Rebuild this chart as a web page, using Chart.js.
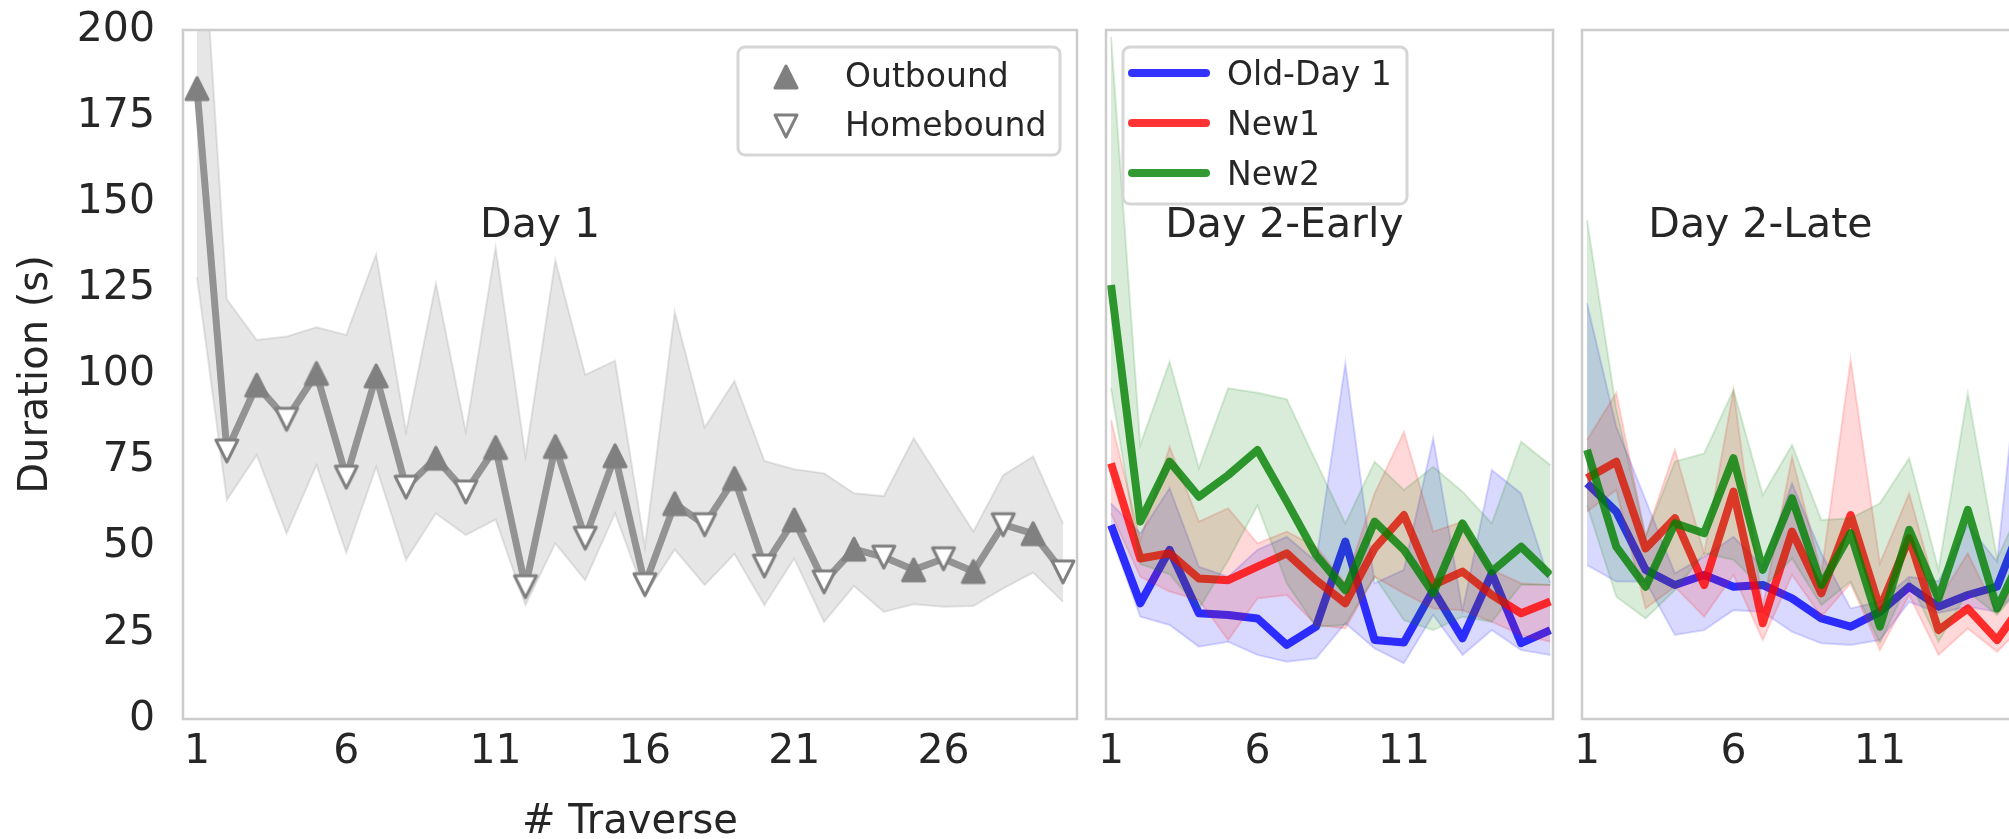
<!DOCTYPE html>
<html>
<head>
<meta charset="utf-8">
<script src="https://cdn.jsdelivr.net/npm/chart.js@4.4.1/dist/chart.umd.min.js"></script>
<style>
  html, body { margin: 0; padding: 0; background: #ffffff; width: 2009px; height: 839px; overflow: hidden; position: relative; }
  canvas { position: absolute; top: 0; }
</style>
</head>
<body>
<canvas id="day1" width="1090" height="839" style="left:0px"></canvas>
<canvas id="early" width="480" height="839" style="left:1090px"></canvas>
<canvas id="late" width="480" height="839" style="left:1570px"></canvas>
<script>
// ---- Day 1: mean duration per traverse with its spread band ----
const day1Traverse = Array.from({ length: 30 }, (_, i) => i + 1);
const day1Mean  = [183.0, 77.8, 96.9, 87.0, 100.3, 70.2, 99.6, 67.3, 75.7, 65.9, 78.8, 38.4, 79.1, 52.5, 76.4,
                   39.0, 62.5, 56.4, 69.8, 44.4, 57.8, 39.8, 49.3, 47.0, 43.3, 46.5, 42.8, 56.4, 53.8, 42.7];
const day1Upper = [258, 121.8, 110.0, 111.0, 113.7, 111.5, 134.9, 83.4, 126.4, 83.4, 136.9, 76.2, 133.2, 99.9, 104.0,
                   50.0, 118.2, 84.6, 98.1, 74.9, 72.5, 71.3, 65.5, 64.7, 81.5, 67.9, 54.4, 70.8, 76.2, 56.7];
const day1Lower = [128.3, 63.6, 76.6, 53.9, 73.7, 48.3, 73.2, 46.2, 59.7, 53.4, 57.9, 33.1, 51.0, 40.3, 59.7,
                   36.0, 49.2, 38.9, 47.9, 33.1, 46.6, 28.2, 38.6, 31.1, 33.3, 32.6, 32.8, 37.9, 42.5, 34.0];
const day1Ticks = [1, 6, 11, 16, 21, 26];

// ---- Day 2 sessions: 16 traverses, three groups ----
const day2Traverse = Array.from({ length: 16 }, (_, i) => i + 1);
const day2Ticks = [1, 6, 11];

const earlyOldMean  = [56.3, 33.6, 49.1, 30.7, 30.2, 29.2, 21.5, 26.8, 51.5, 22.9, 22.2, 37.4, 23.4, 42.3, 22.0, 25.8];
const earlyOldUpper = [62.6, 53.9, 67.0, 44.2, 41.3, 49.1, 52.9, 45.7, 103.2, 39.4, 43.3, 81.5, 31.6, 72.3, 65.5, 39.4];
const earlyOldLower = [53.4, 29.7, 27.3, 21.0, 22.4, 18.6, 16.6, 17.6, 27.8, 20.5, 16.2, 30.2, 18.6, 25.8, 20.0, 18.6];
const earlyNew1Mean  = [74.2, 46.6, 48.1, 40.8, 40.3, 44.2, 48.1, 40.3, 33.6, 49.5, 59.2, 38.9, 42.8, 36.0, 30.7, 34.1];
const earlyNew1Upper = [86.8, 52.0, 79.0, 57.3, 61.2, 51.0, 54.4, 50.0, 39.4, 65.5, 83.4, 54.4, 57.3, 43.3, 39.4, 38.9];
const earlyNew1Lower = [59.7, 41.3, 37.0, 34.5, 22.9, 35.0, 36.0, 27.3, 26.3, 41.3, 36.5, 32.1, 31.6, 28.2, 24.4, 22.4];
const earlyNew2Mean  = [126.0, 57.3, 74.7, 64.5, 70.8, 78.1, 63.1, 47.6, 37.4, 57.3, 49.1, 36.5, 56.8, 42.8, 50.0, 41.8];
const earlyNew2Upper = [198.0, 79.5, 103.7, 72.8, 96.0, 94.7, 92.8, 74.7, 56.8, 74.7, 66.5, 73.2, 66.0, 56.8, 80.5, 73.7];
const earlyNew2Lower = [96.0, 45.0, 42.0, 32.0, 46.0, 62.0, 39.4, 26.8, 27.3, 41.3, 28.7, 25.8, 29.7, 28.2, 38.9, 38.9];

const lateOldMean  = [68.4, 60.2, 43.3, 38.9, 41.8, 38.4, 38.9, 35.0, 29.2, 26.8, 31.1, 38.4, 32.6, 36.0, 38.4, 60.0];
const lateOldUpper = [120.7, 84.8, 63.6, 42.3, 47.1, 52.9, 44.2, 68.4, 48.1, 32.1, 34.1, 41.3, 40.0, 56.3, 45.7, 125.0];
const lateOldLower = [44.7, 39.9, 39.9, 24.4, 25.8, 31.6, 31.1, 25.3, 22.0, 21.5, 22.9, 34.0, 30.8, 32.6, 31.1, 40.0];
const lateNew1Mean  = [69.9, 74.7, 49.5, 58.3, 38.9, 66.0, 27.8, 54.4, 36.5, 59.2, 32.1, 52.5, 25.8, 32.1, 22.9, 35.0];
const lateNew1Upper = [81.0, 94.7, 53.0, 78.1, 48.1, 95.5, 32.6, 76.1, 42.3, 104.2, 45.2, 65.5, 34.5, 48.1, 30.7, 45.0];
const lateNew1Lower = [60.2, 66.5, 32.1, 38.4, 29.7, 41.8, 22.9, 41.8, 29.7, 39.4, 20.0, 36.0, 18.6, 26.3, 19.5, 28.0];
const lateNew2Mean  = [78.1, 50.0, 38.4, 56.8, 53.9, 75.7, 43.3, 64.1, 38.9, 53.9, 26.8, 54.9, 35.0, 60.7, 32.1, 50.0];
const lateNew2Upper = [144.8, 90.0, 53.0, 74.7, 77.1, 95.5, 65.0, 79.5, 57.8, 58.3, 62.6, 75.7, 43.3, 94.5, 46.6, 65.0];
const lateNew2Lower = [62.0, 35.5, 29.2, 37.4, 48.1, 46.2, 37.9, 46.6, 33.0, 39.9, 22.0, 40.3, 22.4, 37.0, 30.2, 40.0];

const yTicksMax = 200;
const yTickStep = 25;

// ---- shared styling ----
const FONT = 'DejaVu Sans';
const INK = '#262626';
const GROUPS = [
  { label: 'Old-Day 1', line: 'rgba(0,0,255,0.8)',  band: 'rgba(0,0,255,0.15)' },
  { label: 'New1',      line: 'rgba(255,0,0,0.8)',  band: 'rgba(255,0,0,0.15)' },
  { label: 'New2',      line: 'rgba(0,128,0,0.8)',  band: 'rgba(0,128,0,0.15)' }
];

const pts = (xs, ys) => ys.map((v, i) => ({ x: xs[i], y: v }));

// triangle markers shaped like matplotlib's '^' and 'v'
function triangleMarker(up, fill, stroke) {
  const c = document.createElement('canvas');
  c.width = c.height = 32;
  const g = c.getContext('2d');
  const m = 16, h = 11;
  g.beginPath();
  if (up) { g.moveTo(m, m - h); g.lineTo(m + h, m + h); g.lineTo(m - h, m + h); }
  else    { g.moveTo(m, m + h); g.lineTo(m + h, m - h); g.lineTo(m - h, m - h); }
  g.closePath();
  g.fillStyle = fill; g.fill();
  g.lineWidth = 3; g.lineJoin = 'round'; g.strokeStyle = stroke; g.stroke();
  return c;
}
const upMarker = triangleMarker(true, '#808080', '#808080');
const downMarker = triangleMarker(false, '#ffffff', '#808080');

// frame around each plotting area
const framePlugin = {
  id: 'frame',
  afterDatasetsDraw(chart) {
    const a = chart.chartArea, ctx = chart.ctx;
    ctx.save();
    ctx.strokeStyle = '#cccccc';
    ctx.lineWidth = 2.5;
    ctx.strokeRect(a.left, a.top, a.right - a.left, a.bottom - a.top);
    ctx.restore();
  }
};

// panel caption placed in data coordinates
const captionPlugin = {
  id: 'caption',
  afterDatasetsDraw(chart, args, opts) {
    if (!opts.text) return;
    const ctx = chart.ctx;
    ctx.save();
    ctx.font = `${opts.size}px "${FONT}"`;
    ctx.fillStyle = INK;
    ctx.textAlign = 'center';
    ctx.textBaseline = 'alphabetic';
    ctx.fillText(opts.text, chart.scales.x.getPixelForValue(opts.x), chart.scales.y.getPixelForValue(opts.y));
    ctx.restore();
  }
};

// boxed legend inside the plotting area
const boxLegendPlugin = {
  id: 'boxLegend',
  afterDraw(chart, args, opts) {
    if (!opts.items) return;
    const ctx = chart.ctx;
    const b = opts.box;
    ctx.save();
    ctx.beginPath();
    ctx.roundRect(b.x, b.y, b.w, b.h, 7);
    ctx.fillStyle = 'rgba(255,255,255,0.8)';
    ctx.fill();
    ctx.lineWidth = 3;
    ctx.strokeStyle = '#d6d6d6';
    ctx.stroke();
    ctx.font = `${opts.size}px "${FONT}"`;
    ctx.fillStyle = INK;
    ctx.textAlign = 'left';
    ctx.textBaseline = 'alphabetic';
    opts.items.forEach((idx, i) => {
      const ds = chart.data.datasets[idx];
      const cy = opts.rowY[i];
      if (ds.pointStyle && typeof ds.pointStyle === 'object') {
        const img = ds.pointStyle;
        ctx.drawImage(img, opts.handleX - img.width / 2, cy - img.height / 2);
      } else {
        ctx.beginPath();
        ctx.moveTo(opts.lineX0, cy);
        ctx.lineTo(opts.lineX1, cy);
        ctx.strokeStyle = ds.borderColor;
        ctx.lineWidth = 8;
        ctx.lineCap = 'round';
        ctx.stroke();
      }
      ctx.fillStyle = INK;
      ctx.fillText(ds.label, opts.textX, cy + opts.baselineShift);
    });
    ctx.restore();
  }
};

Chart.register(framePlugin, captionPlugin, boxLegendPlugin);

function xScale(min, max, ticks, height, title) {
  return {
    type: 'linear', min, max,
    afterBuildTicks: s => { s.ticks = ticks.map(v => ({ value: v })); },
    afterFit: s => { s.height = height; s.paddingLeft = 0; s.paddingRight = 0; },
    grid: { display: false, drawTicks: false },
    border: { display: false },
    ticks: { font: { family: FONT, size: 41 }, color: INK, padding: 9, maxRotation: 0 },
    title: title ? { display: true, text: title, color: INK, font: { family: FONT, size: 40, lineHeight: 0.8 }, padding: { top: 0, bottom: 0 } } : { display: false }
  };
}

function bandDatasets(xs, upper, lower, mean, grp, baseOrder) {
  return [
    { label: grp.label, data: pts(xs, mean), borderColor: grp.line, backgroundColor: grp.line, borderWidth: 8,
      pointRadius: 0, tension: 0, fill: false, borderJoinStyle: 'round', order: baseOrder + 2 },
    { label: grp.label + ' upper', data: pts(xs, upper), borderColor: grp.band, backgroundColor: grp.band, borderWidth: 2,
      pointRadius: 0, tension: 0, fill: '+1', order: baseOrder + 1 },
    { label: grp.label + ' lower', data: pts(xs, lower), borderColor: grp.band, borderWidth: 2,
      pointRadius: 0, tension: 0, fill: false, order: baseOrder }
  ];
}

const common = {
  responsive: false,
  animation: false,
  devicePixelRatio: 1,
  events: [],
};

// ---- Day 1 panel ----
new Chart(document.getElementById('day1'), {
  type: 'line',
  data: {
    datasets: [
      { label: 'band upper', data: pts(day1Traverse, day1Upper), borderColor: 'rgba(128,128,128,0.2)',
        backgroundColor: 'rgba(128,128,128,0.2)', borderWidth: 2, pointRadius: 0, tension: 0, fill: '+1', order: 10 },
      { label: 'band lower', data: pts(day1Traverse, day1Lower), borderColor: 'rgba(128,128,128,0.2)',
        borderWidth: 2, pointRadius: 0, tension: 0, fill: false, order: 9 },
      { label: 'mean', data: pts(day1Traverse, day1Mean), borderColor: '#939393', borderWidth: 7,
        pointRadius: 0, tension: 0, fill: false, borderJoinStyle: 'round', order: 5 },
      { label: 'Outbound', data: pts(day1Traverse, day1Mean).filter(p => p.x % 2 === 1), showLine: false,
        pointStyle: upMarker, pointRadius: 12, order: 2 },
      { label: 'Homebound', data: pts(day1Traverse, day1Mean).filter(p => p.x % 2 === 0), showLine: false,
        pointStyle: downMarker, pointRadius: 12, order: 1 }
    ]
  },
  options: {
    ...common,
    layout: { padding: { left: 0, top: 30, right: 13, bottom: 0 } },
    scales: {
      x: xScale(0.531, 30.47, day1Ticks, 120, '# Traverse'),
      y: {
        min: 0, max: yTicksMax,
        afterFit: s => { s.width = 183; s.paddingTop = 0; s.paddingBottom = 0; },
        grid: { display: false, drawTicks: false },
        border: { display: false },
        ticks: { stepSize: yTickStep, font: { family: FONT, size: 41 }, color: INK, padding: 28 },
        title: { display: true, text: 'Duration (s)', color: INK, font: { family: FONT, size: 40 }, padding: { top: 13, bottom: 0 } }
      }
    },
    plugins: {
      legend: { display: false },
      tooltip: { enabled: false },
      caption: { text: 'Day 1', x: 12.49, y: 140, size: 41 },
      boxLegend: { items: [3, 4], box: { x: 738, y: 47, w: 322, h: 108 }, rowY: [77, 126], handleX: 786,
                   textX: 845, baselineShift: 10, size: 33 }
    }
  }
});

// ---- Day 2 panels ----
function day2Chart(id, title, old, n1, n2, padLeft, padRight, legend) {
  const datasets = [
    ...bandDatasets(day2Traverse, old[1], old[2], old[0], GROUPS[0], 60),
    ...bandDatasets(day2Traverse, n1[1], n1[2], n1[0], GROUPS[1], 50),
    ...bandDatasets(day2Traverse, n2[1], n2[2], n2[0], GROUPS[2], 40)
  ];
  return new Chart(document.getElementById(id), {
    type: 'line',
    data: { datasets },
    options: {
      ...common,
      layout: { padding: { left: padLeft, top: 30, right: padRight, bottom: 0 } },
      scales: {
        x: xScale(0.829, 16.09, day2Ticks, 120, null),
        y: { display: false, min: 0, max: yTicksMax }
      },
      plugins: {
        legend: { display: false },
        tooltip: { enabled: false },
        caption: { text: title, x: 6.92, y: 140, size: 41 },
        boxLegend: legend || {}
      }
    }
  });
}

day2Chart('early', 'Day 2-Early',
  [earlyOldMean, earlyOldUpper, earlyOldLower],
  [earlyNew1Mean, earlyNew1Upper, earlyNew1Lower],
  [earlyNew2Mean, earlyNew2Upper, earlyNew2Lower],
  16, 17,
  { items: [0, 3, 6], box: { x: 33, y: 47, w: 284, h: 157 }, rowY: [73, 123, 173], lineX0: 42, lineX1: 116,
    textX: 137, baselineShift: 12, size: 33 });

day2Chart('late', 'Day 2-Late',
  [lateOldMean, lateOldUpper, lateOldLower],
  [lateNew1Mean, lateNew1Upper, lateNew1Lower],
  [lateNew2Mean, lateNew2Upper, lateNew2Lower],
  12, 21, null);
</script>
</body>
</html>
